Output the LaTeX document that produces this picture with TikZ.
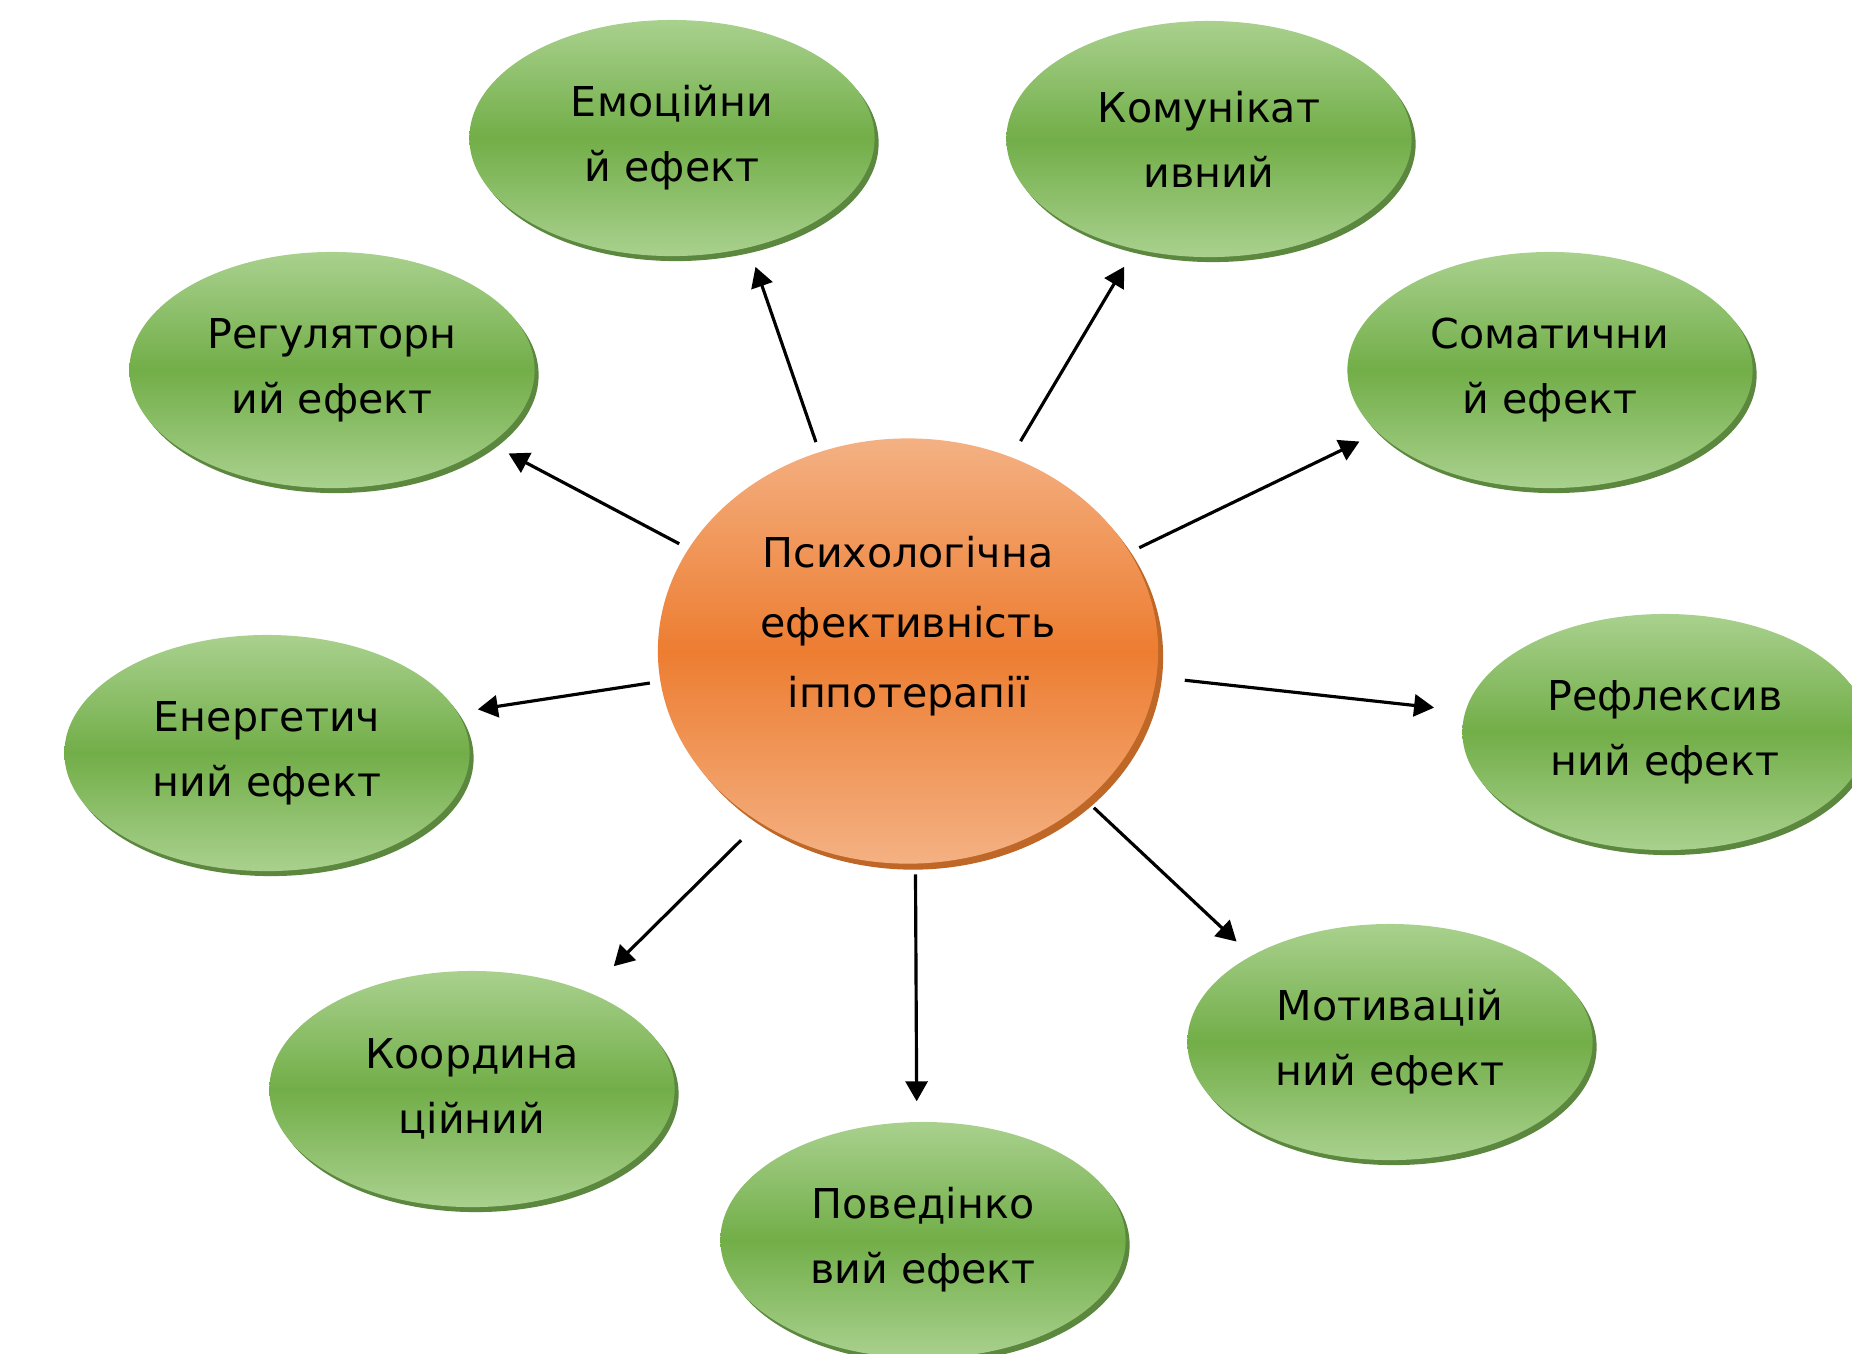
\documentclass[tikz,border=0pt]{standalone}
\usepackage{fontspec}
\setmainfont{DejaVu Sans}
\usepackage{xcolor}
\usepackage{tikz}
\usetikzlibrary{positioning}
\usetikzlibrary{shapes.geometric}
\usetikzlibrary{shadows}
\usetikzlibrary{arrows.meta}
\definecolor{greenlight}{HTML}{A9D18E}
\definecolor{greenmid}{HTML}{72AE48}
\definecolor{greenrim}{HTML}{4A7A2A}
\definecolor{orangelight}{HTML}{F4B183}
\definecolor{orangemid}{HTML}{ED7D31}
\definecolor{orangerim}{HTML}{B8560F}

\begin{document}
\begin{tikzpicture}[x=0.01cm, y=-0.01cm,
effectnode/.style={ellipse, minimum width=4.05cm, minimum height=2.36cm, inner sep=0pt, align=center, top color=greenlight, bottom color=greenlight, middle color=greenmid, drop shadow={shadow xshift=0.04cm, shadow yshift=-0.05cm, fill=greenrim, opacity=0.9}, font=\fontsize{11.7}{18.5}\selectfont},
hubnode/.style={ellipse, minimum width=5.0cm, minimum height=4.25cm, inner sep=0pt, top color=orangelight, bottom color=orangelight, middle color=orangemid, drop shadow={shadow xshift=0.05cm, shadow yshift=-0.06cm, fill=orangerim, opacity=0.9}},
hubtext/.style={align=center, font=\fontsize{11.7}{20}\selectfont},
effectarrow/.style={-{Triangle[length=0.2cm, width=0.22cm]}, line width=0.9pt, shorten <=0.1cm, shorten >=0.2cm},
]
\useasboundingbox (0,0) rectangle (1852,1353);
%Nodes
\node[hubnode, label={[hubtext, name=hubcaption, yshift=0.25cm]center:{Психологічна\\ефективність\\іппотерапії}}] (hub) at (908,651) {};
\node[effectnode]	(emo)		at (672,138)	{Емоційни\\й ефект};
\node[effectnode]	(komun)		at (1209,139)	{Комунікат\\ивний};
\node[effectnode]	(regul)		at (332,370)	{Регуляторн\\ий ефект};
\node[effectnode]	(somat)		at (1550,370)	{Соматични\\й ефект};
\node[effectnode]	(energ)		at (267,753)	{Енергетич\\ний ефект};
\node[effectnode]	(refl)		at (1665,732)	{Рефлексив\\ний ефект};
\node[effectnode]	(motiv)		at (1390,1042)	{Мотивацій\\ний ефект};
\node[effectnode]	(koord)		at (472,1089)	{Координа\\ційний};
\node[effectnode]	(poved)		at (923,1240)	{Поведінко\\вий ефект};

%Lines
\draw[effectarrow] (hub.114) -- (emo.-55);
\draw[effectarrow, shorten <=0.18cm] (hub.62) -- (komun.-124);
\draw[effectarrow] (hub.155) -- (regul.-25);
\draw[effectarrow] (hub.24) -- (somat.-160);
\draw[effectarrow] (hub.187) -- (energ.12);
\draw[effectarrow, shorten <=0.28cm, shorten >=0.31cm] (hub.-6) -- (refl.174);
\draw[effectarrow] (hub.-40) -- (motiv.148);
\draw[effectarrow] (hub.-88) -- (poved.93);
\draw[effectarrow, shorten <=0.25cm, shorten >=0.36cm] (hub.-131) -- (koord.40);
\end{tikzpicture}
\end{document}
